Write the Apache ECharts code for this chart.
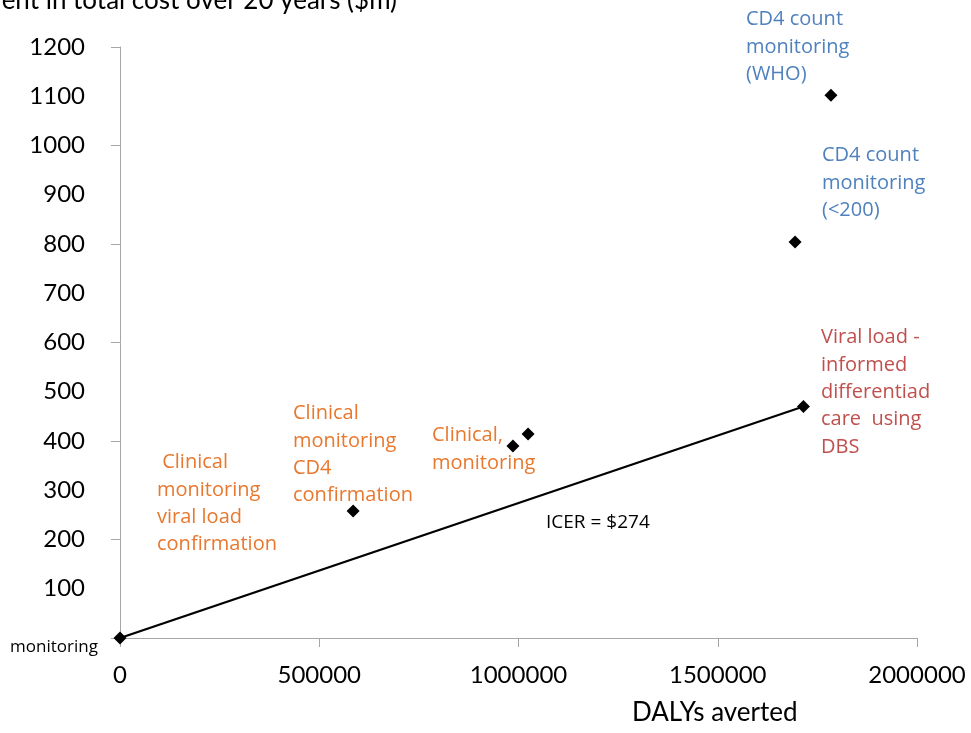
<!DOCTYPE html>
<html>
<head>
<meta charset="utf-8">
<script src="https://cdn.jsdelivr.net/npm/echarts@6/dist/echarts.min.js"></script>
<style>
  html, body { margin: 0; padding: 0; background: #fff; }
  #chart { width: 971px; height: 733px; }
</style>
</head>
<body>
<div id="chart"></div>
<script>
// Monitoring strategies: DALYs averted vs. increment in total cost ($m)
const strategies = [
  'No monitoring',
  'Clinical monitoring CD4 confirmation',
  'Clinical monitoring viral load confirmation',
  'Clinical, monitoring',
  'CD4 count monitoring (<200)',
  'CD4 count monitoring (WHO)',
  'Viral load - informed differentiad care using DBS'
];
const dalysAverted = [0, 585000, 986000, 1024000, 1694000, 1784000, 1715000];
const costIncrement = [0, 258, 390, 414, 804, 1102, 470];

// Efficiency frontier from the origin to the viral load strategy
const frontierX = [0, 1715000];
const frontierY = [0, 470];

const xTicks = [0, 500000, 1000000, 1500000, 2000000];
const yTicks = [0, 100, 200, 300, 400, 500, 600, 700, 800, 900, 1000, 1100, 1200];

const TICK_FONT = 'Lato';
const NOTE_FONT = '"Open Sans"';
const ORANGE = '#E8782E';
const BLUE = '#4F81BD';
const RED = '#C0504D';
const AXIS = '#A6A6A6';

const chart = echarts.init(document.getElementById('chart'), null, { renderer: 'canvas' });

function note(lines, x, y, color, size, lh) {
  return {
    type: 'text', left: x, top: y, silent: true,
    style: {
      text: lines.join('\n'), fill: color, font: size + 'px ' + NOTE_FONT,
      lineHeight: lh, textVerticalAlign: 'top'
    }
  };
}

chart.setOption({
  backgroundColor: '#fff',
  animation: false,
  grid: { left: 120, right: 54, top: 47, bottom: 95, containLabel: false },
  xAxis: {
    type: 'value',
    min: xTicks[0], max: xTicks[xTicks.length - 1], interval: xTicks[1] - xTicks[0],
    splitLine: { show: false },
    axisLine: { show: true, lineStyle: { color: AXIS, width: 1 } },
    axisTick: { show: true, inside: false, length: 9, lineStyle: { color: AXIS } },
    axisLabel: {
      color: '#000', fontSize: 24, fontFamily: TICK_FONT, margin: 25,
      formatter: v => String(v)
    }
  },
  yAxis: [
    {
      type: 'value',
      min: yTicks[0], max: yTicks[yTicks.length - 1], interval: yTicks[1] - yTicks[0],
      splitLine: { show: false },
      axisLine: { show: false },
      axisTick: { show: false },
      axisLabel: {
        color: '#000', fontSize: 24, fontFamily: TICK_FONT, margin: 35,
        formatter: v => (v === 0 ? '' : String(v))
      }
    },
    {
      type: 'value',
      position: 'left',
      min: yTicks[0], max: yTicks[yTicks.length - 1], interval: 200,
      splitLine: { show: false },
      axisLine: { show: true, lineStyle: { color: AXIS, width: 1 } },
      axisTick: { show: true, inside: false, length: 9, lineStyle: { color: AXIS } },
      axisLabel: { show: false }
    }
  ],
  series: [
    {
      type: 'line',
      data: frontierX.map((x, i) => [x, frontierY[i]]),
      symbol: 'none',
      lineStyle: { color: '#000', width: 2.2 },
      z: 2
    },
    {
      type: 'scatter',
      data: dalysAverted.map((x, i) => ({ name: strategies[i], value: [x, costIncrement[i]] })),
      symbol: 'diamond',
      symbolSize: 13,
      itemStyle: { color: '#000', opacity: 1 },
      z: 3
    }
  ],
  graphic: [
    {
      type: 'text', right: 971 - 397, top: -12, silent: true,
      style: { text: 'Increment in total cost over 20 years ($m)', fill: '#000', font: '26px ' + TICK_FONT }
    },
    {
      type: 'text', left: 632, top: 700, silent: true,
      style: { text: 'DALYs averted', fill: '#000', font: '26px ' + TICK_FONT }
    },
    note(['monitoring'], 10, 635, '#000', 17, 24),
    note(['ICER = $274'], 546, 510, '#000', 19, 26),
    note(['CD4 count', 'monitoring', '(WHO)'], 746, 6, BLUE, 20, 27.5),
    note(['CD4 count', 'monitoring', '(<200)'], 822, 142, BLUE, 20, 27.5),
    note(['Viral load -', 'informed', 'differentiad', 'care  using', 'DBS'], 821, 324, RED, 20, 27.3),
    note(['Clinical', 'monitoring', 'CD4', 'confirmation'], 293, 400, ORANGE, 20, 27.3),
    note(['Clinical,', 'monitoring'], 432, 422, ORANGE, 20, 27.3),
    note([' Clinical', 'monitoring', 'viral load', 'confirmation'], 157, 449, ORANGE, 20, 27.3)
  ]
});
</script>
</body>
</html>
